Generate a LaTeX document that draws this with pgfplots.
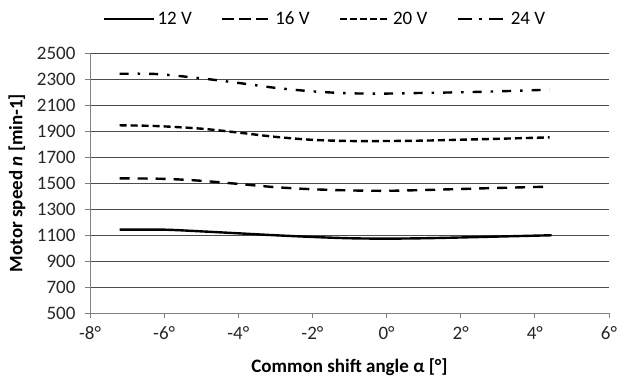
\documentclass[border=0pt]{standalone}
\usepackage{pgfplots}
\pgfplotsset{compat=1.18}
\usepackage{fontspec}
\setmainfont{Carlito}
\begin{document}
\begin{tikzpicture}
\begin{axis}[
  name=ax,
  scale only axis,
  width=519pt, height=260pt,
  xmin=-8, xmax=6, ymin=500, ymax=2500,
  xtick={-8,-6,-4,-2,0,2,4,6},
  ytick={500,700,900,1100,1300,1500,1700,1900,2100,2300,2500},
  ymajorgrids,
  grid style={black!70, line width=0.7pt},
  axis x line*=bottom, axis y line*=left,
  axis line style={black!50, line width=0.9pt, -},
  tick style={black!50, line width=0.9pt},
  tick align=outside, major tick length=5pt,
  /pgf/number format/assume math mode=true,
  /pgf/number format/1000 sep={},
  xticklabel={\pgfmathprintnumber{\tick}°},
  every tick label/.append style={font=\fontsize{19}{22}\selectfont, text=black!85},
  yticklabel style={xshift=-6pt},
  xticklabel style={yshift=-5pt},
  xlabel={\textbf{Common shift angle α [°]}},
  ylabel={\textbf{Motor speed \textit{n} [min-1]}},
  every axis label/.append style={font=\fontsize{19}{22}\selectfont},
  ylabel style={at={(axis description cs:-0.141,0.5)}, anchor=center},
  xlabel style={at={(axis description cs:0.5,-0.207)}, anchor=center},
  legend columns=4,
  legend style={at={(axis description cs:0.025,1.13)}, anchor=west, draw=none, fill=none,
    font=\fontsize{19}{22}\selectfont, inner sep=0pt,
    /tikz/every even column/.append style={column sep=27pt}},
  legend image code/.code={\draw[#1] (0pt,0pt) -- (50pt,0pt);},
]
\addlegendimage{black, line width=2.4pt}
\addlegendentry{12 V}
\addlegendimage{black, line width=2.4pt, dash pattern=on 11.5pt off 5.5pt}
\addlegendentry{16 V}
\addlegendimage{black, line width=2.4pt, dash pattern=on 7pt off 3pt}
\addlegendentry{20 V}
\addlegendimage{black, line width=2.4pt, dash pattern=on 14pt off 7pt on 3pt off 7pt}
\addlegendentry{24 V}

\addplot[forget plot, black, line width=2.4pt, smooth] coordinates {
(-7.2,1141) (-6,1141) (-5,1128) (-4,1113) (-3,1098) (-2,1085) (-1,1075) (0,1072) (1,1075) (2,1081) (3,1088) (4.45,1098)};
\addplot[forget plot, black, line width=2.4pt, smooth, dash pattern=on 10pt off 8pt] coordinates {
(-7.2,1536) (-6,1532) (-5,1517) (-4,1493) (-3,1468) (-2,1452) (-1,1443) (0,1440) (1,1446) (2,1454) (3,1462) (4.4,1472)};
\addplot[forget plot, black, line width=2.4pt, smooth, dash pattern=on 7pt off 4pt] coordinates {
(-7.2,1944) (-6.2,1938) (-5,1918) (-4,1888) (-3,1855) (-2,1832) (-1,1823) (0,1823) (1,1826) (2,1833) (3,1840) (4.4,1851)};
\addplot[forget plot, black, line width=2.4pt, smooth, dash pattern=on 9pt off 9pt on 2.5pt off 9pt] coordinates {
(-7.2,2340) (-6.2,2338) (-5,2305) (-4,2270) (-3,2232) (-2,2205) (-1,2190) (0,2188) (1,2193) (2,2198) (3,2205) (4.4,2218)};
\end{axis}
\path (ax.south west) ++(-90pt,-68pt) rectangle ++(623pt,381pt);
\end{tikzpicture}
\end{document}
